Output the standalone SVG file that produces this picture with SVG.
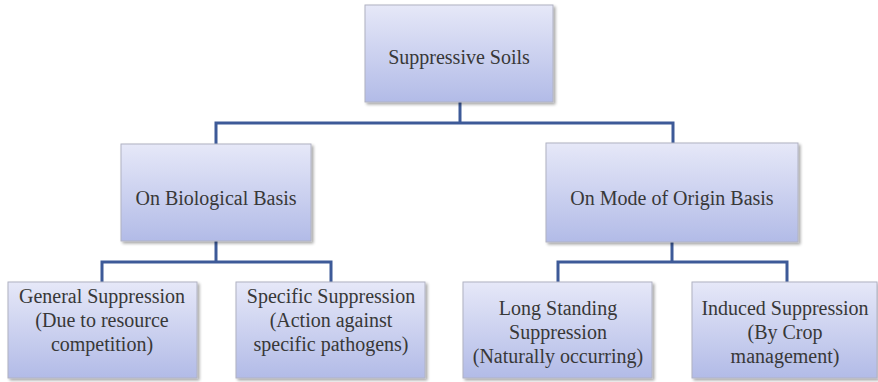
<svg xmlns="http://www.w3.org/2000/svg" width="878" height="382" viewBox="0 0 878 382">
  <defs>
    <linearGradient id="boxFill" x1="0" y1="0" x2="0" y2="1">
      <stop offset="0" stop-color="#e6e8f8"/>
      <stop offset="1" stop-color="#b2bbe7"/>
    </linearGradient>
    <filter id="shadow" x="-10%" y="-10%" width="125%" height="130%">
      <feGaussianBlur in="SourceAlpha" stdDeviation="1.5"/>
      <feOffset dx="2" dy="2" result="b"/>
      <feComponentTransfer><feFuncA type="linear" slope="0.35"/></feComponentTransfer>
      <feMerge><feMergeNode/><feMergeNode in="SourceGraphic"/></feMerge>
    </filter>
  </defs>
  <style>
    .box { fill: url(#boxFill); stroke: #b0b2c2; stroke-width: 1; filter: url(#shadow); }
    .lbl { font-family: "Liberation Serif", "Times New Roman", serif; font-size: 20px; fill: #383838; text-anchor: middle; }
    .conn { fill: none; stroke: #3d5a98; stroke-width: 3; stroke-linejoin: miter; }
  </style>
  <rect width="878" height="382" fill="#ffffff"/>

  <!-- tree connectors: elbow lines from each parent to its children -->
  <g id="connectors">
    <polyline class="conn" points="460,102 460,123"/>
    <polyline class="conn" points="216,144 216,123 673,123 673,144"/>
    <polyline class="conn" points="216,241 216,262"/>
    <polyline class="conn" points="102,283 102,262 331,262 331,283"/>
    <polyline class="conn" points="672,242 672,262"/>
    <polyline class="conn" points="558,283 558,262 787,262 787,283"/>
  </g>

  <g id="suppressive-soils">
    <rect class="box" x="365" y="5" width="188" height="97"/>
    <text class="lbl" x="459" y="64">Suppressive Soils</text>
  </g>

  <g id="biological-basis">
    <rect class="box" x="121" y="144" width="190" height="97"/>
    <text class="lbl" x="216" y="205">On Biological Basis</text>
  </g>

  <g id="mode-of-origin-basis">
    <rect class="box" x="546" y="143" width="252" height="99"/>
    <text class="lbl" x="672" y="205">On Mode of Origin Basis</text>
  </g>

  <g id="general-suppression">
    <rect class="box" x="8" y="282" width="189" height="96"/>
    <text class="lbl" x="102" y="303">General Suppression</text>
    <text class="lbl" x="102" y="327">(Due to resource</text>
    <text class="lbl" x="102" y="351">competition)</text>
  </g>

  <g id="specific-suppression">
    <rect class="box" x="236" y="282" width="189" height="96"/>
    <text class="lbl" x="331" y="303">Specific Suppression</text>
    <text class="lbl" x="331" y="327">(Action against</text>
    <text class="lbl" x="331" y="351">specific pathogens)</text>
  </g>

  <g id="long-standing-suppression">
    <rect class="box" x="463" y="282" width="189" height="96"/>
    <text class="lbl" x="558" y="315">Long Standing</text>
    <text class="lbl" x="558" y="339">Suppression</text>
    <text class="lbl" x="558" y="363">(Naturally occurring)</text>
  </g>

  <g id="induced-suppression">
    <rect class="box" x="692" y="282" width="185" height="96"/>
    <text class="lbl" x="785" y="315">Induced Suppression</text>
    <text class="lbl" x="785" y="339">(By Crop</text>
    <text class="lbl" x="785" y="363">management)</text>
  </g>
</svg>
